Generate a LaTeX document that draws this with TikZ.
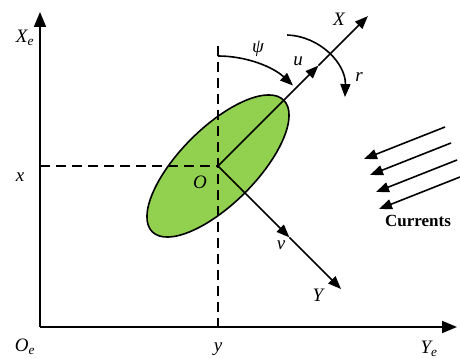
\documentclass[tikz,border=0pt]{standalone}
\usepackage{fontspec}
\setmainfont{Liberation Serif}
\usetikzlibrary{arrows.meta, calc, positioning}
\definecolor{hullgreen}{RGB}{146,208,80}

\begin{document}
\begin{tikzpicture}[
  x=1pt, y=1pt,
  >={Triangle[length=15pt,width=12pt]},
  axis/.style={line width=1.9pt, ->},
  body/.style={line width=1.6pt, ->, >={Triangle[length=13pt,width=10pt]}},
  guide/.style={line width=1.6pt, dash pattern=on 10pt off 6pt},
  flow/.style={line width=1.6pt, ->, >={Triangle[length=13pt,width=10pt]}},
  lbl/.style={font=\fontsize{19}{19}\selectfont\itshape, inner sep=1pt}
]
\useasboundingbox (0,0) rectangle (460,358);

%% ── Points ──────────────────────────────────────────────────────────
\coordinate (Oe)    at (40,31);
\coordinate (XeTip) at (40,346);
\coordinate (YeTip) at (457,31);
\coordinate (O)     at (218,192);
\coordinate (xpt)   at (Oe |- O);
\coordinate (ypt)   at (Oe -| O);
\coordinate (top)   at (218,312);
\coordinate (Xtip)  at ($(O)+(45:212)$);
\coordinate (u)     at ($(O)+(45:142)$);
\coordinate (Ytip)  at ($(O)+(-45:174)$);
\coordinate (v)     at ($(O)+(-45:101)$);
\coordinate (psiS)  at ($(O)+(90:110)$);
\coordinate (rc)    at (285,263);
\coordinate (rS)    at ($(rc)+(88:60)$);

%% ── Coque ───────────────────────────────────────────────────────────
\draw[line width=1.6pt, fill=hullgreen, rotate around={45:(O)}]
  (O) ellipse [x radius=93, y radius=38];

%% ── Repère terrestre + projections ─────────────────────────────────
\draw[guide] (xpt) -- (O);
\draw[guide] (top) -- (ypt);
\draw[axis] (Oe) -- (XeTip);
\draw[axis] (Oe) -- (YeTip);

%% ── Repère du corps ─────────────────────────────────────────────────
\draw[body] (O) -- (u);
\draw[body] (u) -- (Xtip);
\draw[body] (O) -- (v);
\draw[body] (v) -- (Ytip);
\draw[body] (psiS) arc[start angle=90, end angle=47, radius=110];
\draw[body] (rS) arc[start angle=88, end angle=-2, radius=60];

%% ── Courants ────────────────────────────────────────────────────────
\foreach \i/\sx/\sy in {1/445/231, 2/451/215, 3/457/198, 4/460/181} {
  \coordinate (c\i s) at (\sx,\sy);
  \coordinate (c\i e) at ($(c\i s)+(-81,-32)$);
  \draw[flow] (c\i s) -- (c\i e);
}
\node[font=\fontsize{17}{17}\selectfont\bfseries] (cur) at (418,137) {Currents};

%% ── Étiquettes ──────────────────────────────────────────────────────
\node[lbl] (Xe)   at (25,320) {X\textsubscript{e}};
\node[lbl] (OeL)  at (25,11)  {O\textsubscript{e}};
\node[lbl] (YeL)  at (429,9)  {Y\textsubscript{e}};
\node[lbl] (xl)   at (20,181) {x};
\node[lbl] (yl)   at (218,9)  {y};
\node[lbl] (OL)   at (200,176) {O};
\node[lbl] (XL)   at (339,339) {X};
\node[lbl] (YL)   at (318,63)  {Y};
\node[lbl] (ul)   at (298,297) {u};
\node[lbl] (vl)   at (281,113) {v};
\node[lbl] (rl)   at (359,281) {r};
\node[lbl] (psil) at (258,309) {ψ};

\end{tikzpicture}
\end{document}
